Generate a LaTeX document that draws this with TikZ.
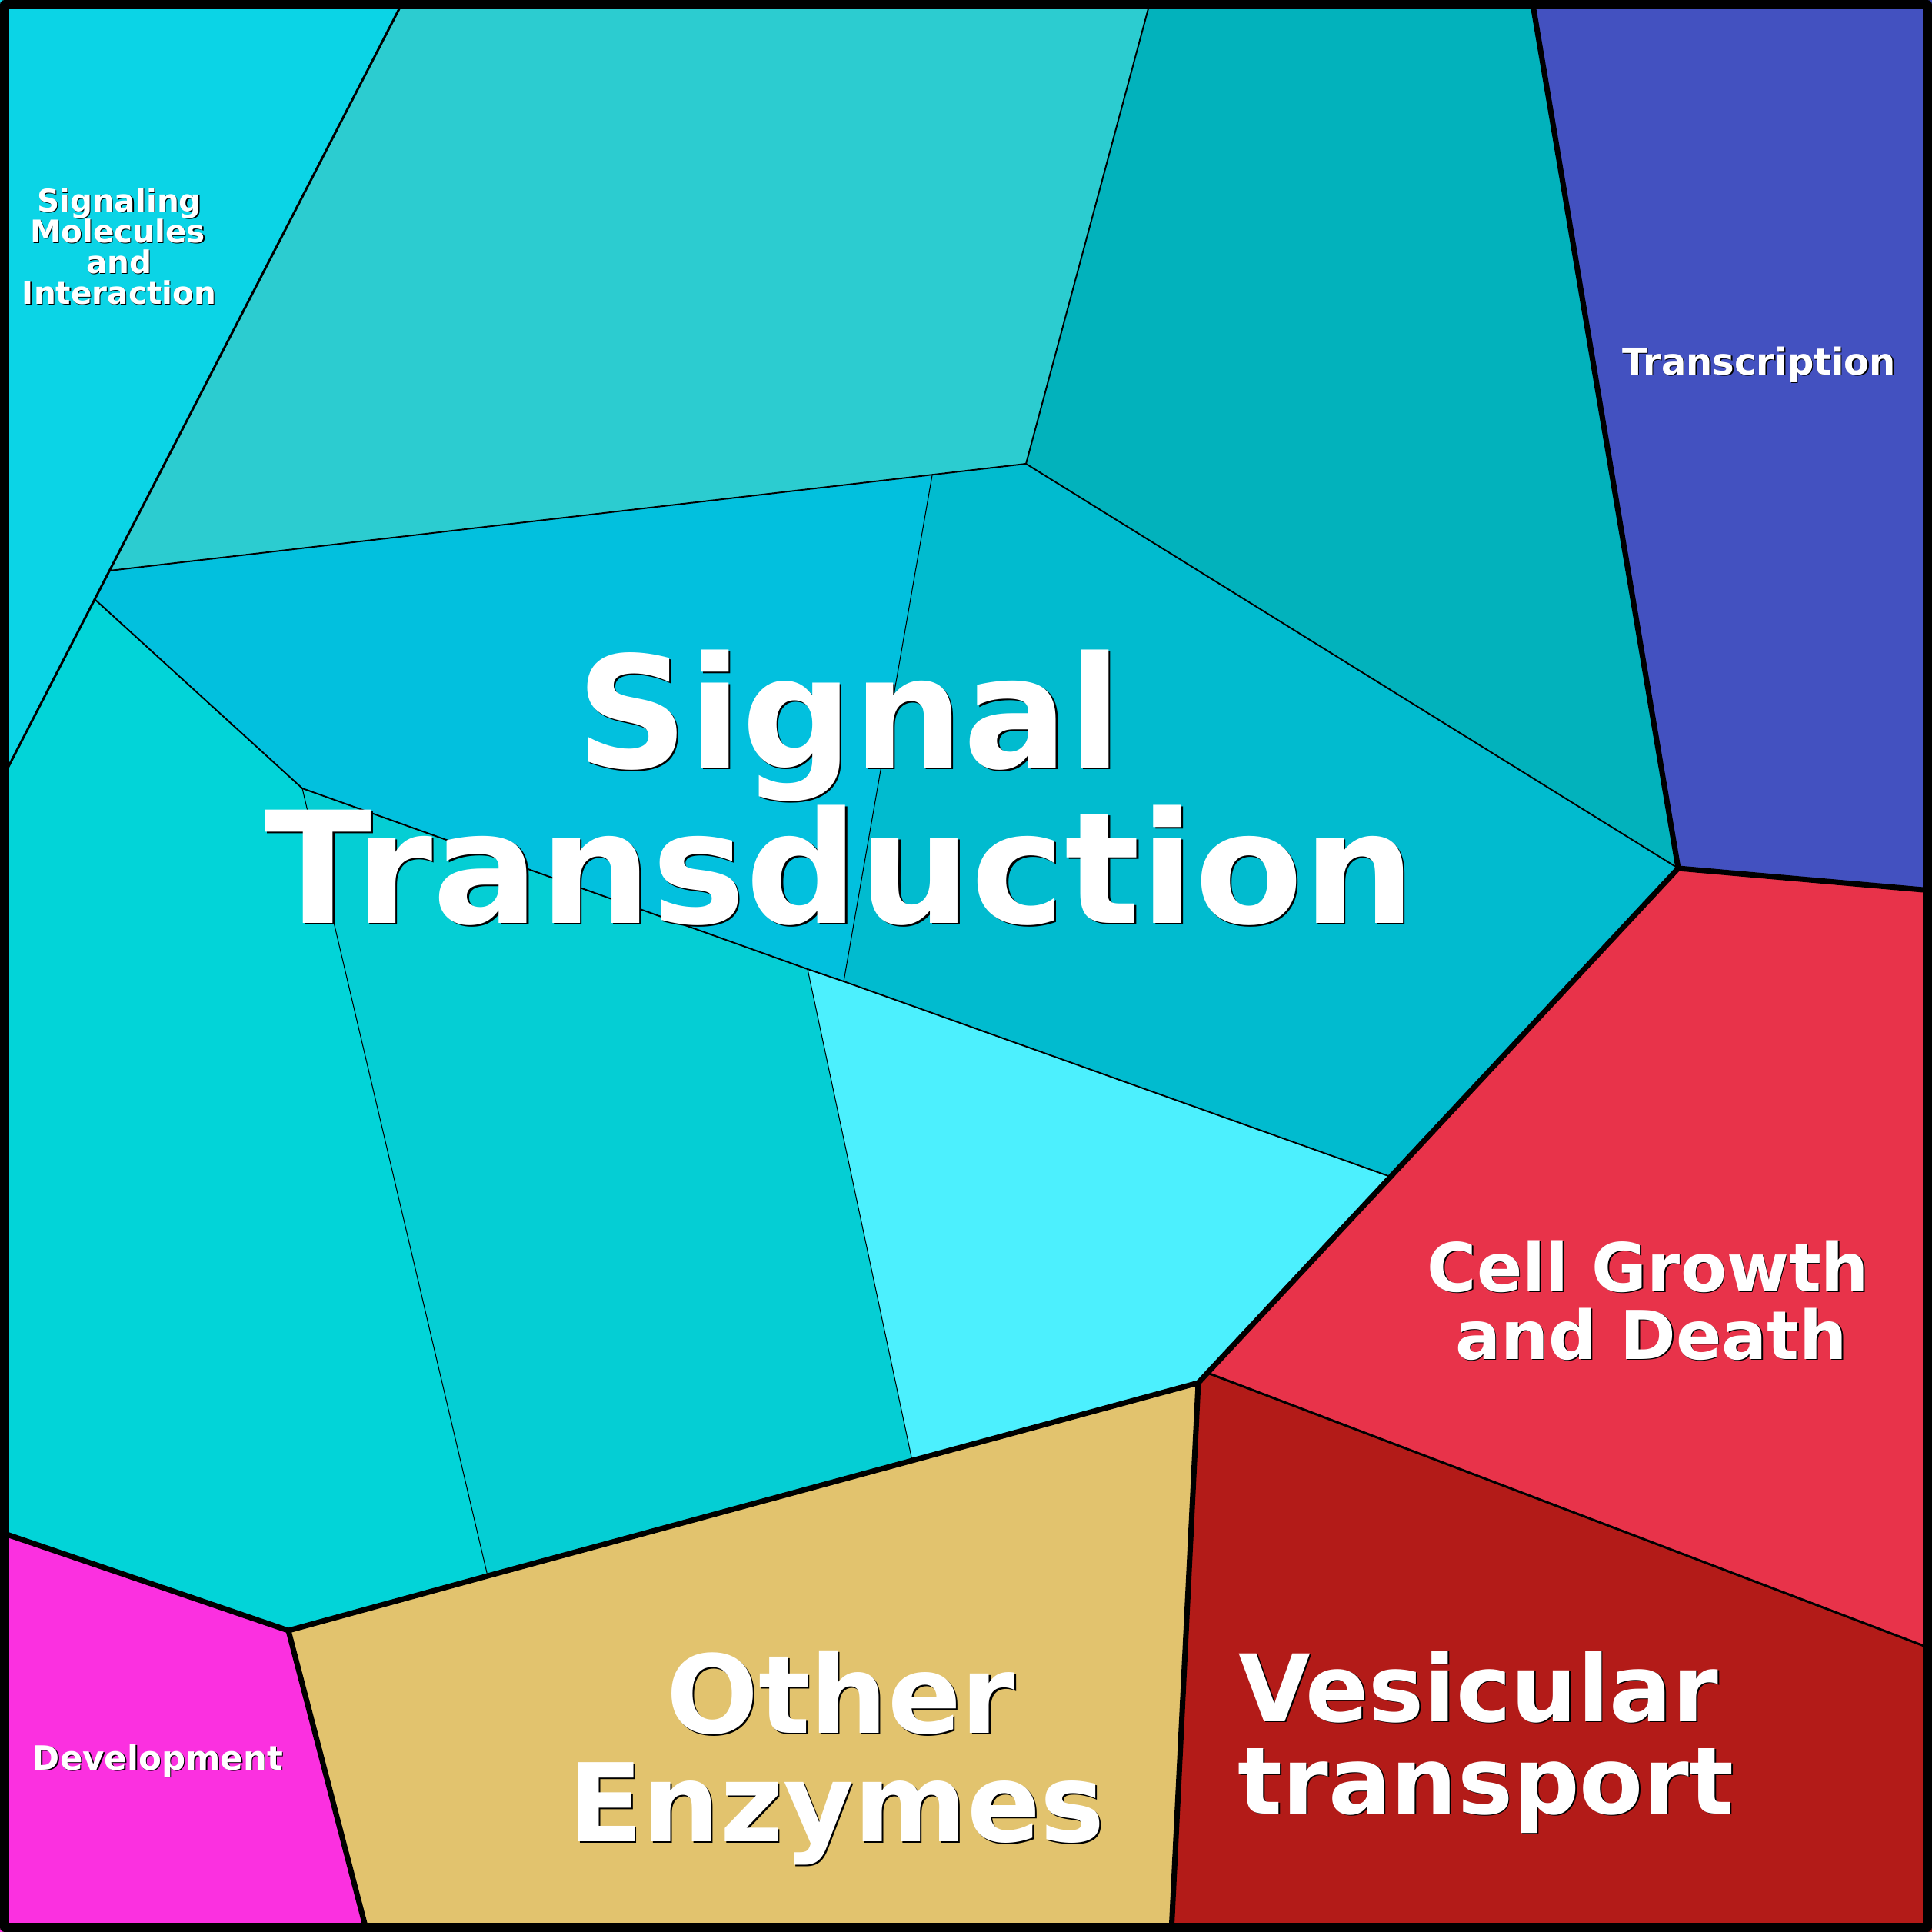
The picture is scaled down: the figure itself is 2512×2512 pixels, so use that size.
\documentclass[tikz,border=0pt]{standalone}
\usepackage{fontspec}
\setmainfont{DejaVu Sans}
\definecolor{cS}{HTML}{0BD4E6}
\definecolor{cTM}{HTML}{2CCCD0}
\definecolor{cTR}{HTML}{02B2BC}
\definecolor{cTX}{HTML}{4351C0}
\definecolor{cCG}{HTML}{E8334A}
\definecolor{cVT}{HTML}{B31B18}
\definecolor{cOE}{HTML}{E2C36E}
\definecolor{cDV}{HTML}{FB30E0}
\definecolor{cCa}{HTML}{02C0DE}
\definecolor{cCb}{HTML}{01BBCF}
\definecolor{cCc}{HTML}{4CF0FE}
\definecolor{cCd}{HTML}{05CED4}
\definecolor{cCe}{HTML}{02D4D8}
\newcommand\shd[2][0.5pt]{\rlap{\kern#1\raisebox{-#1}{\color{black}#2}}#2}
\newcommand\fsz[1]{\fontsize{#1}{#1}\selectfont\bfseries}
\tikzset{
  lbl/.style={text=white, inner sep=0pt, anchor=base},
  thinline/.style={draw=black, line width=0.3pt},
  subline/.style={draw=black, line width=0.55pt},
  grpline/.style={draw=black, line width=0.85pt},
  topline/.style={draw=black, line width=2pt},
}
\begin{document}
\begin{tikzpicture}[x=0.01cm,y=-0.01cm,line join=round,line cap=round]
\useasboundingbox (0,0) rectangle (2512,2512);
% vertices
\coordinate (O00) at (0,0);
\coordinate (P1) at (525,0);
\coordinate (Q1) at (1496,0);
\coordinate (R1) at (1992,0);
\coordinate (OTR) at (2512,0);
\coordinate (P2) at (142,742);
\coordinate (P3) at (123,779);
\coordinate (P4) at (0,1018);
\coordinate (Q2) at (1334,603);
\coordinate (Q3) at (1212,618);
\coordinate (T) at (2182,1129);
\coordinate (R2) at (2512,1158);
\coordinate (K) at (393,1025);
\coordinate (J2) at (1050,1260);
\coordinate (J1) at (1097,1276);
\coordinate (W) at (1808,1530);
\coordinate (V1) at (1570,1785);
\coordinate (V0) at (1558,1798);
\coordinate (R3) at (2512,2144);
\coordinate (X2) at (1186,1899);
\coordinate (X1) at (634,2049);
\coordinate (D) at (375,2120);
\coordinate (L1) at (0,1992);
\coordinate (B2) at (477,2512);
\coordinate (B1) at (1523,2512);
\coordinate (OBL) at (0,2512);
\coordinate (OBR) at (2512,2512);
% cells
\fill[cS] (O00) -- (P1) -- (P4) -- cycle;
\fill[cTM] (P1) -- (Q1) -- (Q2) -- (Q3) -- (P2) -- cycle;
\fill[cTR] (Q1) -- (R1) -- (T) -- (Q2) -- cycle;
\fill[cTX] (R1) -- (OTR) -- (R2) -- (T) -- cycle;
\fill[cCa] (P2) -- (Q3) -- (J1) -- (J2) -- (K) -- (P3) -- cycle;
\fill[cCb] (Q3) -- (Q2) -- (T) -- (W) -- (J1) -- cycle;
\fill[cCc] (J2) -- (W) -- (V0) -- (X2) -- cycle;
\fill[cCd] (K) -- (J2) -- (X2) -- (X1) -- cycle;
\fill[cCe] (P4) -- (P3) -- (K) -- (X1) -- (D) -- (L1) -- cycle;
\fill[cCG] (T) -- (R2) -- (R3) -- (V1) -- cycle;
\fill[cVT] (V0) -- (V1) -- (R3) -- (OBR) -- (B1) -- cycle;
\fill[cOE] (D) -- (V0) -- (B1) -- (B2) -- cycle;
\fill[cDV] (L1) -- (D) -- (B2) -- (OBL) -- cycle;
% borders
\path[thinline] (Q3) -- (J1) (K) -- (X1) (J2) -- (X2);
\path[subline] (P2) -- (Q2) -- (Q1) (Q2) -- (T) (P3) -- (K) -- (J2) -- (J1) -- (W);
\path[grpline] (P1) -- (P4) (V1) -- (R3);
\path[topline] (R1) -- (T) -- (R2) (T) -- (W) -- (V1) -- (V0) -- (B1)
  (V0) -- (X2) -- (X1) -- (D) -- (L1) (D) -- (B2);
\draw[line width=3.41pt] (6,6) rectangle (2506,2506);
% labels
\node[lbl, font=\fsz{11.52pt}] (sm1) at (155,275) {\shd[0.35pt]{Signaling}};
\node[lbl, font=\fsz{11.52pt}] (sm2) at (153,315) {\shd[0.35pt]{Molecules}};
\node[lbl, font=\fsz{11.52pt}] (sm3) at (155,355) {\shd[0.35pt]{and}};
\node[lbl, font=\fsz{11.52pt}] (sm4) at (155,395) {\shd[0.35pt]{Interaction}};
\node[lbl, font=\fsz{13.66pt}] (tx) at (2287,487) {\shd[0.4pt]{Transcription}};
\node[lbl, font=\fsz{57.47pt}] (st1) at (1104,998) {\shd[0.7pt]{Signal}};
\node[lbl, font=\fsz{57.47pt}] (st2) at (1092,1200) {\scalebox{1.016}[1]{\shd[0.7pt]{Transduction}}};
\node[lbl, font=\fsz{24.9pt}] (cg1) at (2143,1679) {\shd[0.45pt]{Cell Growth}};
\node[lbl, font=\fsz{24.9pt}] (cg2) at (2147,1767) {\shd[0.45pt]{and Death}};
\node[lbl, font=\fsz{40.12pt}] (oe1) at (1093,2253) {\shd[0.6pt]{Other}};
\node[lbl, font=\fsz{40.12pt}] (oe2) at (1088,2394) {\shd[0.6pt]{Enzymes}};
\node[lbl, font=\fsz{34.43pt}] (vt1) at (1922,2238) {\shd[0.55pt]{Vesicular}};
\node[lbl, font=\fsz{34.43pt}] (vt2) at (1932,2358) {\shd[0.55pt]{transport}};
\node[lbl, font=\fsz{12.38pt}] (dv) at (205,2301) {\shd[0.45pt]{Development}};
\end{tikzpicture}
\end{document}
